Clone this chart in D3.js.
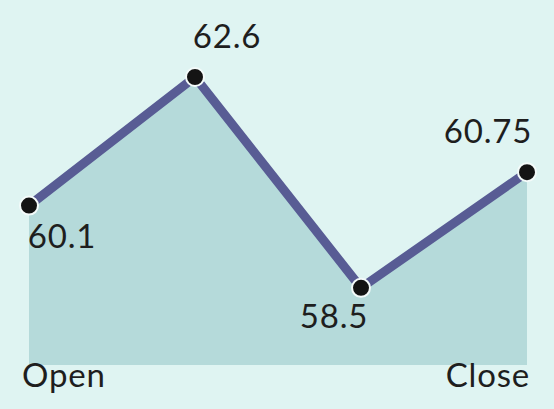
<!DOCTYPE html>
<html>
<head>
<style>
  body { margin: 0; background: #dff4f2; }
  svg { display: block; }
  .lbl { font-family: "Lato", "Open Sans", sans-serif; fill: #1e1e1e; letter-spacing: 0.8px; }
</style>
<script src="https://cdn.jsdelivr.net/npm/d3@7"></script>
</head>
<body>
<svg id="chart" width="554" height="409"></svg>
<script>
// data
var steps = ["s0", "s1", "s2", "s3"];
var values = [60.1, 62.6, 58.5, 60.75];
var valueLabels = ["60.1", "62.6", "58.5", "60.75"];
var axisLabels = ["Open", "Close"];

var svg = d3.select("#chart");
svg.append("rect").attr("width", 554).attr("height", 409).attr("fill", "#dff4f2");

var x = d3.scalePoint().domain(steps).range([29, 527]);
var y = d3.scaleLinear().domain([57, 62.6]).range([365, 77]);

var pts = steps.map(function(s, i) { return { k: s, v: values[i], t: valueLabels[i] }; });

var area = d3.area()
    .x(function(d) { return x(d.k); })
    .y0(y(57))
    .y1(function(d) { return y(d.v); });

svg.append("path")
    .datum(pts)
    .attr("d", area)
    .attr("fill", "#b5dada");

var line = d3.line()
    .x(function(d) { return x(d.k); })
    .y(function(d) { return y(d.v); });

svg.append("path")
    .datum(pts)
    .attr("d", line)
    .attr("fill", "none")
    .attr("stroke", "#585c94")
    .attr("stroke-width", 9)
    .attr("stroke-linejoin", "round");

svg.selectAll("circle.pt")
    .data(pts)
    .join("circle")
    .attr("class", "pt")
    .attr("cx", function(d) { return x(d.k); })
    .attr("cy", function(d) { return y(d.v); })
    .attr("r", 9)
    .attr("fill", "#141414")
    .attr("stroke", "#f4fbfa")
    .attr("stroke-width", 2);

// label offsets (dx, dy) relative to each point
var offs = [[33, 42], [32, -29], [-27, 40], [-39, -29]];
svg.selectAll("text.val")
    .data(pts)
    .join("text")
    .attr("class", "lbl val")
    .attr("x", function(d, i) { return x(d.k) + offs[i][0]; })
    .attr("y", function(d, i) { return y(d.v) + offs[i][1]; })
    .attr("text-anchor", "middle")
    .attr("font-size", 33)
    .text(function(d) { return d.t; });

svg.append("text").attr("class", "lbl")
    .attr("x", 22).attr("y", 387)
    .attr("font-size", 33)
    .text(axisLabels[0]);
svg.append("text").attr("class", "lbl")
    .attr("x", 530).attr("y", 387)
    .attr("text-anchor", "end")
    .attr("font-size", 33)
    .text(axisLabels[1]);
</script>
</body>
</html>
